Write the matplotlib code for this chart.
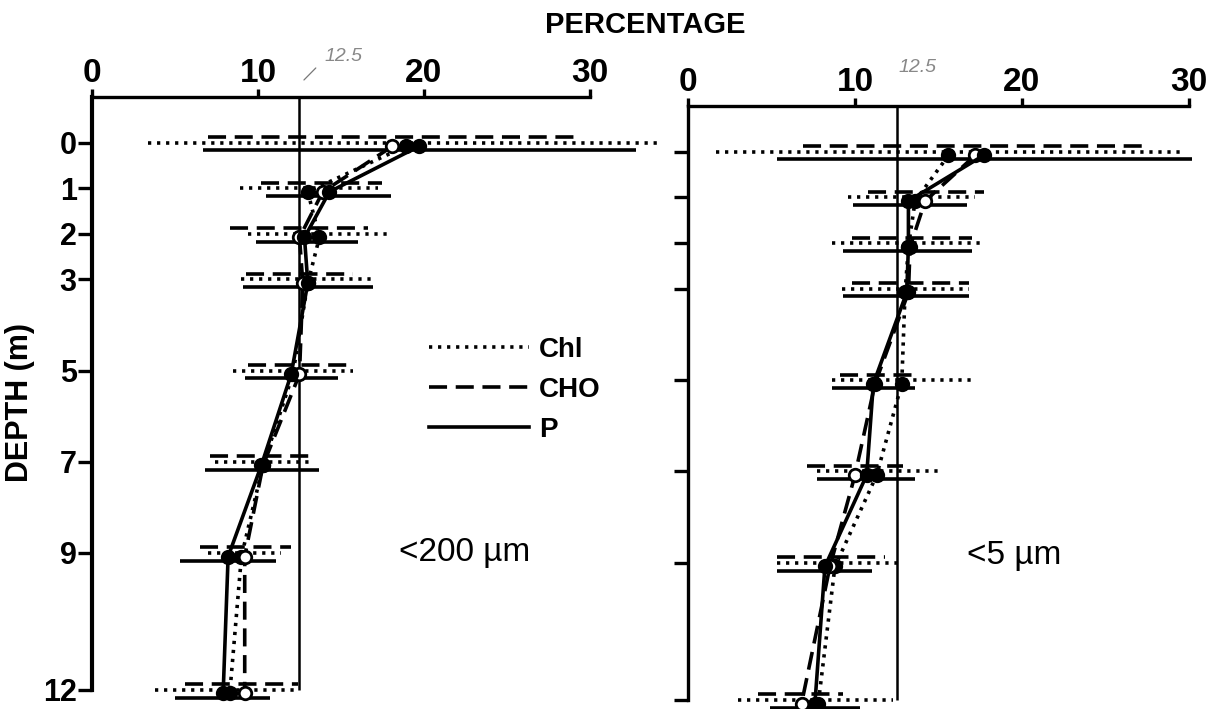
import matplotlib
matplotlib.use('Agg')
import matplotlib.pyplot as plt
from matplotlib.lines import Line2D

plt.rcParams['font.family'] = ['Liberation Sans', 'DejaVu Sans']

depths = [0, 1, 2, 3, 5, 7, 9, 12]
depth_ticks = [0, 1, 2, 3, 5, 7, 9, 12]
pct_ticks = [0, 10, 20, 30]
mean_line = 12.5

# <200 um fraction: mean percentage and range at each depth
chl_200 = [18.9, 13.0, 13.7, 13.0, 12.1, 10.3, 9.0, 8.3]
chl_200_lo = [3.4, 8.9, 9.4, 9.0, 8.5, 7.4, 7.0, 3.8]
chl_200_hi = [34.3, 17.2, 18.1, 17.0, 15.7, 13.2, 11.4, 12.5]
cho_200 = [18.1, 13.9, 12.5, 12.7, 12.5, 10.3, 9.2, 9.2]
cho_200_lo = [7.0, 10.2, 8.3, 9.3, 9.4, 7.1, 6.5, 5.6]
cho_200_hi = [29.2, 17.5, 16.6, 15.7, 15.7, 13.4, 12.0, 12.4]
p_200 = [19.7, 14.3, 12.8, 13.0, 12.0, 10.2, 8.2, 7.9]
p_200_lo = [6.7, 10.5, 9.9, 9.1, 9.2, 6.8, 5.3, 5.0]
p_200_hi = [32.8, 18.0, 16.0, 16.9, 14.8, 13.7, 11.1, 10.7]

# <5 um fraction
chl_5 = [15.6, 13.6, 13.2, 13.0, 12.8, 11.3, 8.8, 7.8]
chl_5_lo = [1.7, 9.6, 8.6, 9.2, 8.6, 7.7, 5.3, 3.0]
chl_5_hi = [29.6, 17.2, 17.6, 16.8, 17.2, 15.2, 12.7, 12.3]
cho_5 = [17.2, 14.2, 13.3, 13.2, 11.2, 10.0, 8.5, 6.8]
cho_5_lo = [6.9, 10.8, 9.8, 9.8, 9.1, 7.1, 5.3, 4.2]
cho_5_hi = [27.5, 17.7, 17.0, 16.8, 13.4, 12.9, 11.8, 9.3]
p_5 = [17.7, 13.2, 13.2, 13.1, 11.1, 10.7, 8.2, 7.6]
p_5_lo = [5.3, 9.9, 9.3, 9.3, 8.6, 7.7, 5.3, 4.9]
p_5_hi = [30.2, 16.7, 17.0, 16.8, 13.6, 13.6, 11.0, 10.3]

DOT = (0, (0.9, 1.6))
DASH = (0, (5.0, 2.4))
LW = 2.6

fig = plt.figure(figsize=(12.1, 7.09), dpi=100)
ax1 = fig.add_axes([92 / 1210, 1 - 708 / 709, 581 / 1210, 611 / 709])
ax2 = fig.add_axes([688 / 1210, 1 - 709 / 709, 526 / 1210, 603 / 709])


def draw_panel(ax, series, xmax, ylim_bottom, show_labels, spine_w):
    ax.set_facecolor('none')
    for vals, lo, hi, ls, face, dy in series:
        ys = [d + dy for d in depths]
        ax.hlines(ys, lo, hi, colors='black', linestyles=ls, linewidth=LW,
                  clip_on=False)
        ax.plot(vals, [d + 0.08 for d in depths], color='black', linestyle=ls,
                linewidth=LW, marker='o', markersize=9, markerfacecolor=face,
                markeredgecolor='black', markeredgewidth=2.0, clip_on=False,
                zorder=3)
    ax.vlines(mean_line, -1, 12, colors='black', linewidth=1.8)

    ax.set_xlim(0, xmax)
    ax.set_ylim(ylim_bottom, -1)
    for side in ['right', 'bottom']:
        ax.spines[side].set_visible(False)
    ax.spines['top'].set_bounds(0, 30)
    ax.spines['left'].set_bounds(-1, 12)
    ax.spines['top'].set_linewidth(2.4)
    ax.spines['left'].set_linewidth(spine_w)

    ax.xaxis.tick_top()
    ax.set_xticks(pct_ticks)
    ax.set_xticklabels([str(t) for t in pct_ticks], fontsize=24,
                       fontweight='bold')
    ax.set_yticks(depth_ticks)
    if show_labels:
        ax.set_yticklabels([str(t) for t in depth_ticks], fontsize=22,
                           fontweight='bold')
    else:
        ax.set_yticklabels([])
    ax.tick_params(axis='x', direction='out', length=6, width=2.4, pad=0)
    ax.tick_params(axis='y', direction='out', length=10, width=2.4, pad=1)


draw_panel(ax1, [
    (chl_200, chl_200_lo, chl_200_hi, DOT, 'black', 0.0),
    (cho_200, cho_200_lo, cho_200_hi, DASH, 'white', -0.12),
    (p_200, p_200_lo, p_200_hi, '-', 'black', 0.17),
], 35, 12.4, True, 3.0)

draw_panel(ax2, [
    (chl_5, chl_5_lo, chl_5_hi, DOT, 'black', 0.0),
    (cho_5, cho_5_lo, cho_5_hi, DASH, 'white', -0.12),
    (p_5, p_5_lo, p_5_hi, '-', 'black', 0.17),
], 31.5, 12.2, False, 2.4)

ax1.set_ylabel('DEPTH (m)', fontsize=22, fontweight='bold', labelpad=6)

fig.text(645 / 1210, 1 - 25 / 709, 'PERCENTAGE', fontsize=21,
         fontweight='bold', ha='center', va='center')

# pencil notes of the mean value
ax1.annotate('', xy=(12.65, -1.33), xytext=(13.6, -1.68),
             annotation_clip=False,
             arrowprops=dict(arrowstyle='-', color='#777777', lw=0.9))
ax1.text(14.0, -1.88, '12.5', fontsize=14, fontstyle='italic',
         color='#888888', ha='left', va='center', clip_on=False)
ax2.text(12.6, -1.85, '12.5', fontsize=14, fontstyle='italic',
         color='#888888', ha='left', va='center', clip_on=False)

ax1.text(18.5, 9.0, '<200 µm', fontsize=24, ha='left', va='center')
ax2.text(16.7, 8.85, '<5 µm', fontsize=24, ha='left', va='center')

handles = [
    Line2D([], [], color='black', linestyle=DOT, linewidth=LW),
    Line2D([], [], color='black', linestyle=DASH, linewidth=LW),
    Line2D([], [], color='black', linestyle='-', linewidth=LW),
]
fig.legend(handles, ['Chl', 'CHO', 'P'], loc='upper left',
           bbox_to_anchor=(404 / 1210, 1 - 312 / 709), frameon=False,
           handlelength=3.6, handletextpad=0.35, labelspacing=0.5,
           prop={'size': 20, 'weight': 'bold'})

fig.savefig('out.png', dpi=100)
